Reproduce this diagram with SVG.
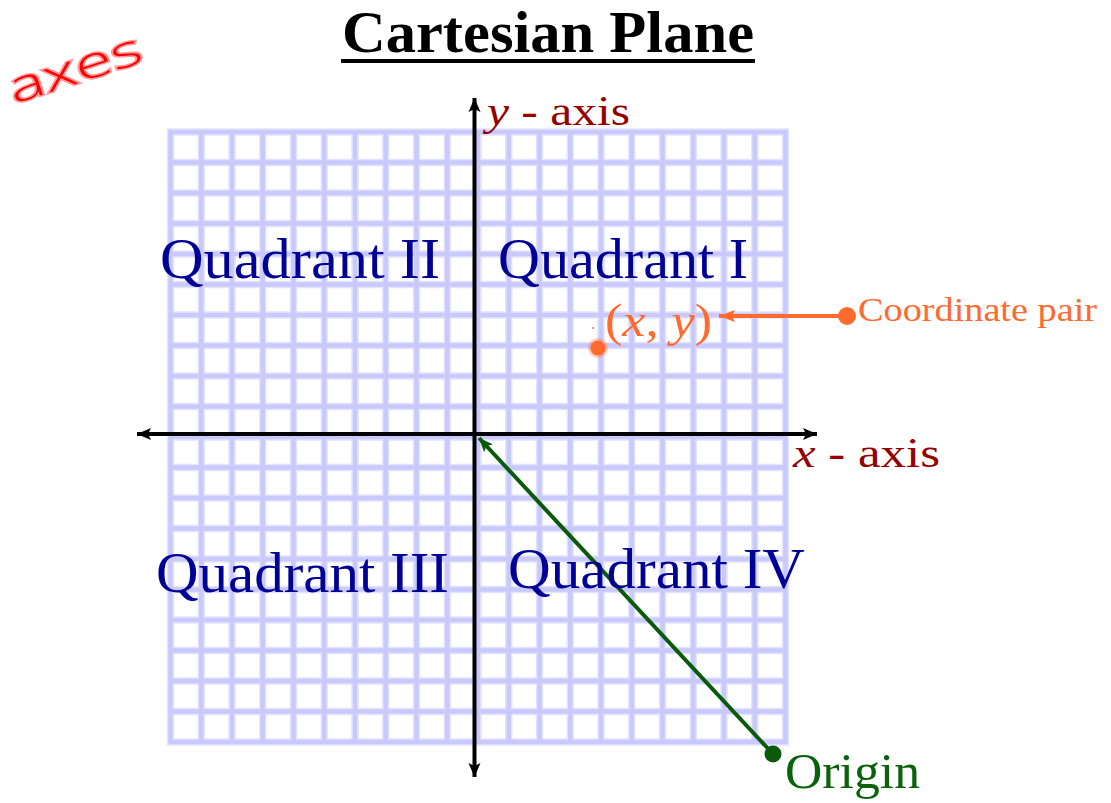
<svg xmlns="http://www.w3.org/2000/svg" width="1111" height="803" viewBox="0 0 1111 803">
<style>
.serif{font-family:"Liberation Serif","Times New Roman",serif}
.quad{fill:#000096;font-size:56px}
.axl{fill:#950000;font-size:42px}
.or{fill:#ff6a2e}
.it{font-style:italic}
</style>
<defs>
<marker id="ab" markerUnits="userSpaceOnUse" markerWidth="16" markerHeight="14" refX="14" refY="7" orient="auto-start-reverse" viewBox="0 0 16 14">
<path d="M0,1 L14,7 L0,13 L3,7 Z" fill="#000"/>
</marker>
<marker id="ag" markerUnits="userSpaceOnUse" markerWidth="16" markerHeight="14" refX="14" refY="7" orient="auto" viewBox="0 0 16 14">
<path d="M0,1 L14,7 L0,13 L3,7 Z" fill="#0b5a0b"/>
</marker>
<marker id="ao" markerUnits="userSpaceOnUse" markerWidth="18" markerHeight="14" refX="16" refY="7" orient="auto" viewBox="0 0 18 14">
<path d="M0,1 L16,7 L0,13 L3,7 Z" fill="#ff6a2e"/>
</marker>
</defs>
<rect width="1111" height="803" fill="#fff"/>
<g id="grid" fill="none" stroke-linecap="square">
<path d="M170.5 132V742M201.25 132V742M232 132V742M262.75 132V742M293.5 132V742M324.25 132V742M355 132V742M385.75 132V742M416.5 132V742M447.25 132V742M478 132V742M508.75 132V742M539.5 132V742M570.25 132V742M601 132V742M631.75 132V742M662.5 132V742M693.25 132V742M724 132V742M754.75 132V742M785.5 132V742M170.5 132H785.5M170.5 162.5H785.5M170.5 193H785.5M170.5 223.5H785.5M170.5 254H785.5M170.5 284.5H785.5M170.5 315H785.5M170.5 345.5H785.5M170.5 376H785.5M170.5 406.5H785.5M170.5 437H785.5M170.5 467.5H785.5M170.5 498H785.5M170.5 528.5H785.5M170.5 559H785.5M170.5 589.5H785.5M170.5 620H785.5M170.5 650.5H785.5M170.5 681H785.5M170.5 711.5H785.5M170.5 742H785.5" stroke="#e4e4ff" stroke-width="7.5"/>
<path d="M170.5 132V742M201.25 132V742M232 132V742M262.75 132V742M293.5 132V742M324.25 132V742M355 132V742M385.75 132V742M416.5 132V742M447.25 132V742M478 132V742M508.75 132V742M539.5 132V742M570.25 132V742M601 132V742M631.75 132V742M662.5 132V742M693.25 132V742M724 132V742M754.75 132V742M785.5 132V742M170.5 132H785.5M170.5 162.5H785.5M170.5 193H785.5M170.5 223.5H785.5M170.5 254H785.5M170.5 284.5H785.5M170.5 315H785.5M170.5 345.5H785.5M170.5 376H785.5M170.5 406.5H785.5M170.5 437H785.5M170.5 467.5H785.5M170.5 498H785.5M170.5 528.5H785.5M170.5 559H785.5M170.5 589.5H785.5M170.5 620H785.5M170.5 650.5H785.5M170.5 681H785.5M170.5 711.5H785.5M170.5 742H785.5" stroke="#c9c9fd" stroke-width="4.5"/>
</g>
<g id="title">
<text class="serif" x="342" y="52" font-size="60" font-weight="bold" textLength="412" lengthAdjust="spacingAndGlyphs">Cartesian Plane</text>
<rect x="341" y="59" width="414" height="4" fill="#000"/>
</g>
<g id="handwriting">
<text x="14" y="104" transform="rotate(-18 14 104)" font-family="Open Sans, DejaVu Sans, sans-serif" font-weight="300" font-size="44" fill="#ff0000" stroke="#ff9a9a" stroke-width="3" paint-order="stroke" textLength="138" lengthAdjust="spacingAndGlyphs">axes</text>
</g>
<g id="connectors">
<line id="x-axis" x1="137" y1="434" x2="817" y2="434" stroke="#000" stroke-width="4" marker-start="url(#ab)" marker-end="url(#ab)"/>
<line id="y-axis" x1="474.5" y1="98" x2="474.5" y2="777" stroke="#000" stroke-width="4" marker-start="url(#ab)" marker-end="url(#ab)"/>
<line id="origin-line" x1="773" y1="754" x2="479" y2="438" stroke="#0b5a0b" stroke-width="4" marker-end="url(#ag)"/>
<line id="pair-line" x1="847" y1="316" x2="719" y2="316" stroke="#ff6a2e" stroke-width="4" marker-end="url(#ao)"/>
</g>
<g id="quadrant-1"><text class="serif quad" x="498" y="278" textLength="250" lengthAdjust="spacingAndGlyphs">Quadrant I</text></g>
<g id="quadrant-2"><text class="serif quad" x="160" y="278" textLength="280" lengthAdjust="spacingAndGlyphs">Quadrant II</text></g>
<g id="quadrant-3"><text class="serif quad" x="156" y="592" textLength="293" lengthAdjust="spacingAndGlyphs">Quadrant III</text></g>
<g id="quadrant-4"><text class="serif quad" x="508" y="588" textLength="297" lengthAdjust="spacingAndGlyphs">Quadrant IV</text></g>
<g id="y-axis-label"><text class="serif axl" x="487" y="125" textLength="143" lengthAdjust="spacingAndGlyphs"><tspan class="it">y</tspan> - axis</text></g>
<g id="x-axis-label"><text class="serif axl" x="793" y="467" textLength="147" lengthAdjust="spacingAndGlyphs"><tspan class="it">x</tspan> - axis</text></g>
<g id="point">
<circle cx="598" cy="348" r="10" fill="#ff6a2e" opacity="0.35"/>
<circle cx="598" cy="348" r="7.5" fill="#ff6a2e"/>
<circle cx="593" cy="328" r="1" fill="#ff6a2e"/>
<text class="serif or" x="605" y="336" font-size="46" textLength="107" lengthAdjust="spacingAndGlyphs">(<tspan class="it">x</tspan>, <tspan class="it">y</tspan>)</text>
</g>
<g id="coordinate-pair">
<circle cx="847" cy="316" r="9" fill="#ff6a2e"/>
<text class="serif or" x="858" y="321" font-size="34" textLength="239" lengthAdjust="spacingAndGlyphs">Coordinate pair</text>
</g>
<g id="origin">
<circle cx="773" cy="754" r="8.5" fill="#0b5a0b"/>
<text class="serif" x="785" y="788" font-size="50" fill="#0b620b" textLength="135" lengthAdjust="spacingAndGlyphs">Origin</text>
</g>
</svg>
